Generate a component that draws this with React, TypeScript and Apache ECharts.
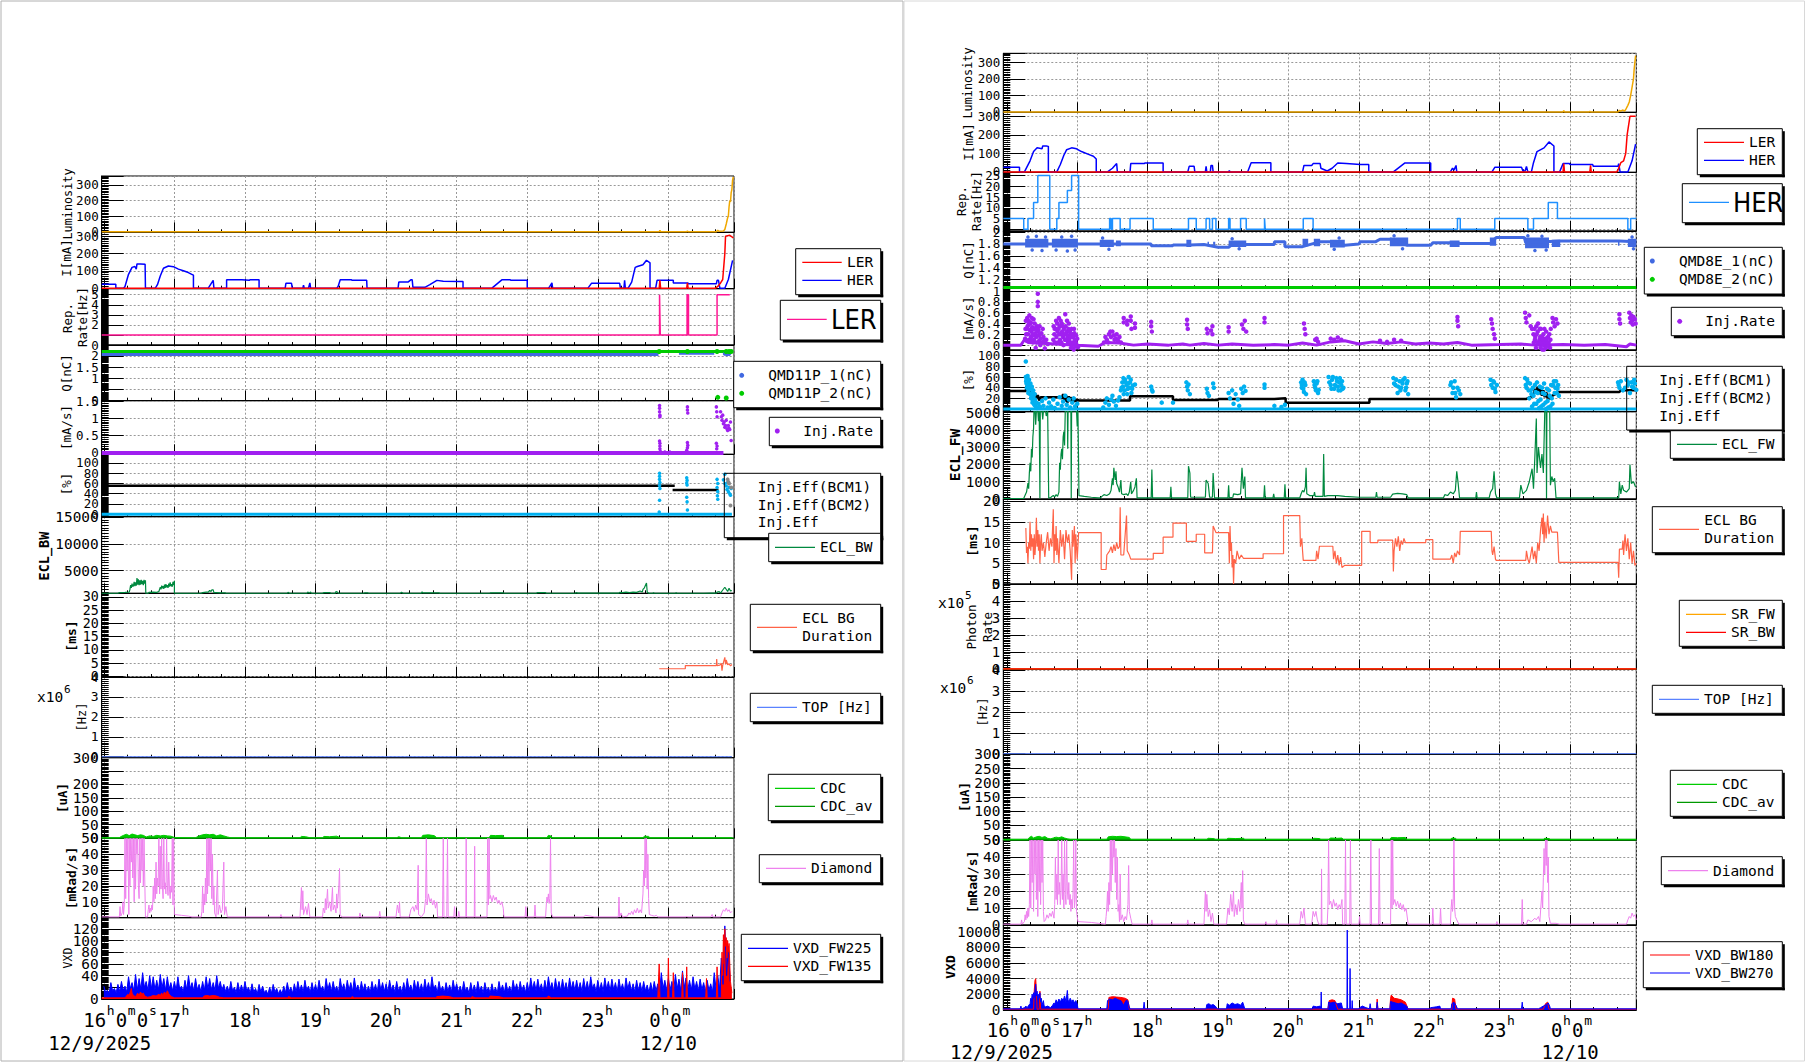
import React, { useEffect, useRef } from 'react';
import * as echarts from 'echarts';

const MONO = '"DejaVu Sans Mono", "Liberation Mono", monospace';
const NARROW = '"Liberation Sans Narrow", "DejaVu Sans Condensed", "Liberation Sans", sans-serif';

// ---------------- time axis (hours after 16:00) ----------------
const hourTicks = [1, 2, 3, 4, 5, 6, 7];
const hourNames = ['17', '18', '19', '20', '21', '22', '23'];
const firstLabel = [['16', 0], ['h', 1], ['0', 0], ['m', 1], ['0', 0], ['s', 1]];
const midnightLabel = [['0', 0], ['h', 1], ['0', 0], ['m', 1]];
const startDate = '12/9/2025';
const endDate = '12/10';

// ---------------- LEFT (LER) data ----------------
const lumL = [[-0.03,0],[7.87,0],[7.88,10],[7.89,0],[8.26,0],[8.27,5],[8.28,0],[8.68,0],[8.70,10],[8.72,3],[8.78,5],[8.80,15],[8.82,50],[8.84,90],[8.85,100],[8.86,160],[8.87,200],[8.88,190],[8.89,250],[8.90,270],[8.91,330],[8.92,350]];
const herIL = [[-0.03,23],[0.17,23],[0.17,0],[0.28,0],[0.30,10],[0.35,80],[0.40,120],[0.44,125],[0.46,110],[0.47,140],[0.52,140],[0.585,138],[0.59,0],[0.73,0],[0.76,20],[0.80,70],[0.845,115],[0.915,128],[0.986,124],[1.057,110],[1.127,100],[1.198,90],[1.246,80],[1.27,75],[1.27,0],[1.48,0],[1.55,45],[1.56,0],[1.74,0],[1.74,48],[1.955,48],[1.96,45],[2.06,45],[2.07,48],[2.2,48],[2.2,0],[2.57,0],[2.58,28],[2.66,28],[2.67,0],[2.82,0],[2.83,18],[2.84,0],[2.90,0],[2.92,30],[2.93,0],[3.3,0],[3.32,10],[3.35,48],[3.51,48],[3.52,45],[3.725,45],[3.73,0],[4.17,0],[4.18,35],[4.31,35],[4.35,48],[4.37,48],[4.38,5],[4.55,5],[4.62,20],[4.72,45],[4.81,40],[5.05,38],[5.09,38],[5.09,0],[5.50,0],[5.64,48],[5.76,48],[5.77,45],[6.0,45],[6.0,0],[6.30,0],[6.32,10],[6.35,30],[6.36,0],[6.86,0],[6.91,28],[7.31,28],[7.32,0],[7.37,0],[7.38,45],[7.39,0],[7.43,0],[7.48,35],[7.53,120],[7.56,125],[7.64,135],[7.69,161],[7.74,146],[7.74,0],[7.82,0],[7.84,45],[8.07,45],[8.07,30],[8.28,30],[8.28,25],[8.68,25],[8.69,45],[8.71,45],[8.73,0],[8.80,0],[8.85,50],[8.91,160]];
const lerIL = [[-0.03,0],[7.87,0],[7.88,45],[7.89,0],[8.26,0],[8.27,30],[8.28,0],[8.67,0],[8.70,10],[8.74,30],[8.77,50],[8.78,100],[8.80,200],[8.81,300],[8.87,305],[8.92,290]];
const lerRepL = [[-0.03,1],[7.875,1],[7.875,5],[7.885,5],[7.885,1],[8.265,1],[8.265,5],[8.285,5],[8.285,1],[8.69,1],[8.69,5],[8.87,5]];
const qGreenL = [[-0.03,2.2],[8.9,2.2]];
const qGreenDotsL = [[7.87,2.2],[8.27,2.2],[8.69,2.2],[8.82,2.2],[8.86,2.2],[8.89,2.2],[8.7,0.15],[8.82,0.12]];
const qBlueL = [[-0.03,2.07],[7.86,2.07]];
const qBlueL2 = [[8.15,2.12],[8.65,2.12]];
const qBlueDotsL = [[8.8,2.1],[8.83,2.08],[8.86,2.09]];
const injBaseL = [[-0.03,0],[8.78,0]];
const injPtsL = [[7.875,1.38],[7.875,1.3],[7.875,1.2],[7.88,1.1],[7.88,1.05],[7.875,0.35],[7.88,0.28],[7.88,0.2],[7.88,0.12],[7.885,0.05],[7.95,0.03],[8.02,0.03],[8.27,1.34],[8.27,1.25],[8.275,1.16],[8.27,0.3],[8.275,0.22],[8.27,0.15],[8.26,0.08],[8.68,1.34],[8.685,1.2],[8.69,1.05],[8.68,0.28],[8.69,0.2],[8.685,0.12],[8.74,1.2],[8.75,1.05],[8.76,0.95],[8.77,1.1],[8.78,0.85],[8.79,0.9],[8.8,0.75],[8.81,0.8],[8.82,0.95],[8.83,0.7],[8.84,0.65],[8.85,0.8],[8.86,0.72],[8.87,0.68],[8.88,0.9],[8.89,0.36]];
const effCyanLineL = [[-0.03,0],[8.9,0]];
const effCyanPtsL = [[7.875,80],[7.875,74],[7.875,68],[7.88,62],[7.875,56],[7.88,50],[7.875,27],[7.87,4],[8.26,71],[8.265,66],[8.26,61],[8.265,57],[8.26,33],[8.265,24],[8.27,8],[8.69,68],[8.70,60],[8.69,52],[8.70,44],[8.695,36],[8.70,29],[8.78,67],[8.8,60],[8.8,78],[8.82,55],[8.83,48],[8.84,62],[8.85,44],[8.86,52],[8.87,40],[8.88,37],[8.89,50]];
const effBlackL = [[-0.03,55.5],[8.09,55.5]];
const effBlackL2 = [[8.06,47],[8.71,47]];
const effGrayPtsL = [[8.84,68],[8.85,63],[8.86,60],[8.88,17],[8.89,52]];
const eclBwL = [[-0.03,780],[0.2,780],[0.22,900],[0.3,950],[0.36,1000],[0.37,1500],[0.38,2300],[0.39,1800],[0.40,2600],[0.41,2000],[0.42,2200],[0.43,2900],[0.44,2100],[0.45,2800],[0.46,2200],[0.47,3600],[0.48,2400],[0.49,3400],[0.50,2300],[0.51,3200],[0.52,2400],[0.53,3300],[0.54,2500],[0.55,3100],[0.56,2300],[0.57,3300],[0.58,2600],[0.59,3200],[0.595,780],[0.63,780],[0.64,950],[0.7,1000],[0.75,950],[0.78,1100],[0.79,1500],[0.80,1900],[0.81,1500],[0.82,2200],[0.83,1700],[0.84,2100],[0.85,1600],[0.86,2400],[0.87,1800],[0.88,2500],[0.89,1900],[0.90,2300],[0.91,1800],[0.92,2600],[0.93,2000],[0.94,2800],[0.95,2100],[0.96,2500],[0.97,2000],[0.98,2900],[0.99,2300],[1.0,3100],[1.0,780],[1.38,780],[1.4,900],[1.45,1000],[1.48,1000],[1.5,1300],[1.52,1100],[1.53,1400],[1.55,1400],[1.56,900],[1.6,900],[1.65,850],[1.72,850],[1.73,780],[2.6,780],[2.61,950],[2.63,780],[2.88,780],[2.89,1000],[2.91,800],[2.93,1000],[2.94,780],[3.1,780],[3.12,900],[3.2,900],[3.22,780],[3.28,780],[3.29,1100],[3.31,1000],[3.32,780],[3.68,780],[3.7,850],[3.74,850],[3.75,780],[4.2,780],[4.22,950],[4.24,780],[4.5,780],[4.51,1050],[4.52,850],[4.75,850],[4.76,780],[5.47,780],[5.48,850],[5.66,850],[5.67,780],[6.13,780],[6.14,880],[6.26,880],[6.27,780],[6.68,780],[6.69,900],[6.72,800],[7.3,800],[7.31,950],[7.35,880],[7.4,1000],[7.45,900],[7.5,1000],[7.55,950],[7.6,1200],[7.63,1000],[7.64,1500],[7.66,1800],[7.69,2700],[7.70,1000],[7.72,780],[7.78,780],[7.79,900],[7.80,780],[8.1,780],[8.11,900],[8.12,780],[8.5,780],[8.6,800],[8.68,800],[8.69,1000],[8.72,1100],[8.74,800],[8.76,1200],[8.8,1900],[8.84,1100],[8.86,1700],[8.88,1200],[8.9,1300]];
const bgDurL = [[7.87,2.9],[8.24,2.9],[8.24,4.1],[8.68,4.1],[8.685,6.6],[8.69,4.1],[8.73,4.3],[8.75,5.0],[8.76,2.2],[8.77,4.2],[8.80,7.2],[8.81,4.5],[8.82,6.2],[8.84,4.4],[8.86,4.8],[8.88,4.0],[8.9,4.5]];
const topL = [[-0.03,0],[8.9,0]];
const cdcAvL = [[-0.03,0],[8.93,0]];
const cdcL = [[-0.03,1],[0.22,1],[0.24,5],[0.28,10],[0.32,14],[0.36,9],[0.4,15],[0.44,12],[0.48,9],[0.52,12],[0.56,10],[0.6,4],[0.65,8],[0.7,6],[0.75,10],[0.8,8],[0.85,10],[0.9,8],[0.95,7],[1.0,2],[1.3,1],[1.35,8],[1.4,12],[1.45,14],[1.5,12],[1.55,14],[1.6,8],[1.65,12],[1.7,8],[1.75,4],[1.8,1],[2.78,1],[2.8,6],[2.86,5],[2.92,1],[3.1,1],[3.12,6],[3.2,5],[3.3,7],[3.35,1],[4.15,1],[4.18,5],[4.22,1],[4.5,1],[4.52,10],[4.6,12],[4.68,9],[4.72,1],[5.46,1],[5.48,10],[5.55,9],[5.65,10],[5.68,1],[6.28,1],[6.3,10],[6.34,7],[6.36,1],[7.64,1],[7.66,7],[7.72,6],[7.74,1],[8.9,1]];
const diaL = [[-0.03,0.5],[0.22,0.5],[0.23,7],[0.24,1],[0.26,3],[0.27,10],[0.28,2],[0.29,8],[0.3,50],[0.31,12],[0.32,50],[0.33,30],[0.34,50],[0.35,18],[0.355,2],[0.36,50],[0.37,20],[0.38,50],[0.39,35],[0.40,50],[0.41,25],[0.42,50],[0.43,10],[0.44,50],[0.45,18],[0.46,50],[0.47,40],[0.48,50],[0.49,20],[0.50,12],[0.51,50],[0.52,22],[0.53,50],[0.54,30],[0.55,50],[0.56,20],[0.57,50],[0.58,25],[0.59,0.5],[0.62,0.5],[0.63,5],[0.64,8],[0.65,3],[0.66,6],[0.67,4],[0.68,8],[0.69,5],[0.70,20],[0.71,10],[0.72,25],[0.73,12],[0.74,35],[0.75,15],[0.76,25],[0.77,20],[0.78,50],[0.79,15],[0.80,45],[0.81,18],[0.82,50],[0.83,20],[0.84,12],[0.85,50],[0.86,18],[0.87,22],[0.88,15],[0.89,50],[0.9,20],[0.91,14],[0.92,35],[0.93,18],[0.94,12],[0.95,20],[0.96,16],[0.97,50],[0.98,8],[0.99,50],[1.0,2],[1.1,1.5],[1.2,1],[1.25,0.5],[1.38,0.5],[1.39,4],[1.40,20],[1.41,3],[1.42,15],[1.43,8],[1.44,25],[1.45,10],[1.46,50],[1.47,15],[1.48,50],[1.49,20],[1.50,50],[1.51,30],[1.52,50],[1.53,12],[1.54,40],[1.55,8],[1.56,20],[1.57,3],[1.59,0.5],[1.61,30],[1.62,2],[1.64,8],[1.66,3],[1.68,5],[1.70,35],[1.71,2],[1.73,7],[1.75,0.5],[2.5,0.5],[2.51,2],[2.52,0.5],[2.78,0.5],[2.8,19],[2.81,5],[2.82,17],[2.83,2],[2.86,7],[2.88,2],[2.9,9],[2.92,0.5],[3.1,0.5],[3.11,6],[3.13,3],[3.14,12],[3.15,5],[3.17,18],[3.18,6],[3.2,10],[3.22,4],[3.24,19],[3.25,5],[3.27,8],[3.29,3],[3.3,15],[3.31,6],[3.33,20],[3.34,31],[3.35,2],[3.37,0.5],[3.62,0.5],[3.63,3],[3.64,0.5],[3.9,0.5],[3.91,4],[3.92,0.5],[4.14,0.5],[4.16,8],[4.18,3],[4.19,10],[4.2,0.5],[4.33,0.5],[4.35,5],[4.38,7],[4.4,4],[4.42,8],[4.44,5],[4.455,33],[4.46,2],[4.5,0.5],[4.54,3],[4.56,12],[4.57,50],[4.58,8],[4.6,15],[4.62,10],[4.64,12],[4.66,8],[4.68,11],[4.7,6],[4.72,10],[4.73,0.5],[4.8,0.5],[4.81,50],[4.82,0.5],[4.86,0.5],[4.87,50],[4.88,0.5],[4.96,0.5],[4.97,7],[4.98,0.5],[5.02,0.5],[5.03,4],[5.04,0.5],[5.13,0.5],[5.135,50],[5.14,0.5],[5.25,0.5],[5.255,45],[5.26,0.5],[5.43,0.5],[5.44,50],[5.45,8],[5.46,50],[5.47,12],[5.48,14],[5.50,10],[5.52,14],[5.54,11],[5.56,13],[5.58,9],[5.6,11],[5.62,8],[5.64,10],[5.66,6],[5.67,0.5],[5.97,0.5],[5.98,7],[5.99,0.5],[6.1,0.5],[6.11,8],[6.12,0.5],[6.26,0.5],[6.27,8],[6.28,13],[6.29,10],[6.3,15],[6.31,9],[6.32,12],[6.33,50],[6.34,3],[6.36,0.5],[6.8,0.5],[6.82,1.5],[6.9,1],[6.95,0.5],[7.29,0.5],[7.30,13],[7.31,0.5],[7.33,3],[7.35,0.5],[7.42,1],[7.44,3],[7.46,2],[7.48,4],[7.5,2],[7.52,5],[7.54,3],[7.56,6],[7.58,3],[7.6,5],[7.62,3],[7.64,15],[7.65,30],[7.66,20],[7.67,50],[7.68,25],[7.69,50],[7.70,18],[7.71,40],[7.72,12],[7.73,2],[7.76,1.5],[7.8,1],[7.83,1.5],[7.85,0.5],[8.25,0.5],[8.26,1],[8.27,0.5],[8.6,0.5],[8.62,2],[8.63,0.5],[8.74,0.5],[8.76,3],[8.78,5],[8.8,4],[8.82,6],[8.84,4],[8.86,5],[8.88,3],[8.9,4]];
// VXD_FW225 read every 3 minutes from 16:00: local peaks and the troughs between them
const vxdSampleStep = 0.05;
const vxdFwPeakL = [22,15,28,18,25, 30,22,38,28,42, 35,45,30,40,38, 32,42,35,38,28, 30,38,22,32,40, 28,35,25,30,38, 35,28,40,30,25, 22,30,20,28,24, 30,20,26,18,25, 22,15,20,25,18, 16,22,28,20,26, 30,24,32,22,28, 25,32,22,35,28, 30,22,35,26,32, 28,36,24,30,26, 22,30,25,34,28, 26,32,24,30,22, 28,35,24,32,30, 26,34,28,38,24, 30,22,28,24,32, 26,22,30,20,28, 24,30,22,28,20, 26,20,30,24,28, 22,32,26,30,24, 28,36,30,34,26, 32,38,28,35,30, 34,28,36,30,32, 28,35,30,38,26, 32,28,36,30,34, 28,34,26,36,30, 26,32,28,30,24, 28,30,26,45,32, 35,30,42,34,48, 36,32,38,30,34, 28,32,26,45,40, 70,125,90];
const vxdFwTroughL = [12,10,14,11,13, 15,12,18,14,16, 17,20,15,18,16, 16,19,15,17,14, 15,17,12,16,18, 14,16,13,15,17, 16,14,18,15,13, 12,14,11,13,12, 14,10,12,9,12, 11,8,10,12,9, 9,11,13,10,12, 14,12,15,11,13, 12,15,11,16,13, 14,11,16,12,15, 13,16,12,14,12, 11,14,12,15,13, 12,15,11,14,11, 13,16,12,15,14, 12,15,13,17,11, 14,11,13,12,15, 12,11,14,10,13, 11,14,10,13,10, 12,10,14,11,13, 11,15,12,14,11, 13,17,14,16,12, 15,18,13,16,14, 16,13,17,14,15, 13,16,14,18,12, 15,13,17,14,16, 13,16,12,17,14, 12,15,13,14,11, 13,14,12,18,15, 16,14,18,15,20, 16,15,17,14,16, 13,15,12,18,17, 25,40,30];
const vxdRedL = [[-0.03,2],[0.3,2],[0.32,5],[0.34,8],[0.36,6],[0.38,14],[0.39,18],[0.40,10],[0.42,6],[0.45,4],[0.48,10],[0.5,6],[0.52,12],[0.54,8],[0.56,10],[0.58,5],[0.62,3],[0.66,4],[0.7,6],[0.74,5],[0.78,8],[0.8,6],[0.82,10],[0.84,7],[0.86,12],[0.88,8],[0.9,14],[0.92,9],[0.94,6],[0.96,4],[1.0,2],[1.4,2],[1.42,5],[1.46,6],[1.5,5],[1.55,6],[1.6,5],[1.64,3],[1.7,2],[2.6,2],[2.62,4],[2.66,2],[3.5,2],[3.52,4],[3.55,2],[4.7,2],[4.72,4],[4.8,5],[4.9,4],[4.95,2],[5.2,2],[5.22,4],[5.26,2],[5.45,2],[5.48,5],[5.6,4],[5.66,2],[6.28,2],[6.3,5],[6.34,2],[7.85,2],[7.87,60],[7.88,2],[7.99,2],[8.0,70],[8.01,2],[8.06,2],[8.07,45],[8.08,2],[8.19,2],[8.2,45],[8.21,2],[8.25,2],[8.26,55],[8.27,2],[8.53,2],[8.54,35],[8.55,2],[8.68,2],[8.69,55],[8.7,2],[8.75,2],[8.76,80],[8.77,40],[8.78,110],[8.79,60],[8.8,120],[8.81,90],[8.82,105],[8.83,70],[8.84,100],[8.85,80],[8.86,95],[8.87,60],[8.88,30],[8.9,10]];

// ---------------- RIGHT (HER) data ----------------
const lumR = [[-0.05,0],[7.9,0],[7.91,8],[7.92,0],[8.27,0],[8.28,4],[8.29,0],[8.68,0],[8.70,10],[8.72,5],[8.75,12],[8.77,5],[8.79,15],[8.82,40],[8.84,60],[8.86,100],[8.88,150],[8.90,200],[8.91,260],[8.93,340]];
const herIR = [[-0.05,25],[0.18,25],[0.18,0],[0.25,0],[0.33,60],[0.38,110],[0.43,130],[0.50,125],[0.51,140],[0.56,140],[0.59,138],[0.59,0],[0.71,0],[0.76,40],[0.81,90],[0.85,120],[0.92,130],[0.99,125],[1.06,110],[1.16,95],[1.23,85],[1.27,70],[1.27,0],[1.43,0],[1.50,20],[1.56,45],[1.57,0],[1.75,0],[1.76,45],[1.95,45],[1.96,48],[2.22,48],[2.22,0],[2.57,0],[2.59,30],[2.66,30],[2.67,0],[2.82,0],[2.83,30],[2.84,0],[2.89,0],[2.90,35],[2.92,35],[2.93,0],[3.15,0],[3.16,8],[3.17,0],[3.42,0],[3.47,50],[3.75,50],[3.75,0],[4.20,0],[4.22,35],[4.33,35],[4.35,45],[4.45,45],[4.46,20],[4.55,5],[4.62,20],[4.70,48],[4.82,45],[5.02,40],[5.14,40],[5.14,0],[5.49,0],[5.65,48],[6.02,48],[6.02,0],[6.30,0],[6.33,20],[6.35,10],[6.38,35],[6.39,0],[6.89,0],[6.93,25],[7.31,25],[7.33,5],[7.36,5],[7.38,30],[7.40,0],[7.45,0],[7.48,50],[7.53,110],[7.63,130],[7.70,162],[7.77,140],[7.77,0],[7.85,0],[7.90,45],[7.99,45],[8.0,40],[8.32,40],[8.33,30],[8.68,30],[8.69,45],[8.71,0],[8.82,0],[8.88,60],[8.93,150]];
const lerIR = [[-0.05,0],[7.90,0],[7.91,45],[7.92,0],[8.28,0],[8.29,35],[8.30,0],[8.66,0],[8.68,10],[8.72,50],[8.76,60],[8.79,100],[8.81,200],[8.85,300],[8.93,300]];
const herRepR = [[-0.05,5],[0.24,5],[0.24,0],[0.30,0],[0.30,5],[0.38,5],[0.38,12.5],[0.44,12.5],[0.44,25],[0.61,25],[0.61,0],[0.71,0],[0.71,5],[0.74,5],[0.74,12.5],[0.86,12.5],[0.86,18],[0.92,18],[0.92,25],[1.02,25],[1.02,0],[1.46,0],[1.46,5],[1.48,5],[1.48,0],[1.50,0],[1.50,5],[1.61,5],[1.61,0],[1.75,0],[1.75,5],[2.08,5],[2.08,0],[2.58,0],[2.58,5],[2.69,5],[2.69,0],[2.83,0],[2.83,5],[2.88,5],[2.88,0],[2.92,0],[2.92,5],[2.97,5],[2.97,0],[3.15,0],[3.15,5],[3.17,5],[3.17,0],[3.32,0],[3.32,5],[3.40,5],[3.40,0],[3.66,0],[3.66,5],[3.67,5],[3.67,0],[4.21,0],[4.21,5],[4.35,5],[4.35,0],[6.40,0],[6.40,5],[6.44,5],[6.44,0],[6.93,0],[6.93,5],[7.40,5],[7.40,0],[7.48,0],[7.48,5],[7.69,5],[7.69,12.5],[7.82,12.5],[7.82,5],[8.82,5],[8.82,0],[8.86,0],[8.86,5],[8.94,5]];
const qBlueLineR = [[-0.05,1.80],[2.05,1.80],[2.05,1.77],[2.36,1.77],[2.36,1.785],[2.6,1.785],[2.8,1.79],[3.0,1.745],[3.15,1.745],[3.2,1.79],[3.8,1.79],[3.8,1.84],[3.95,1.84],[3.95,1.755],[4.2,1.755],[4.45,1.84],[4.6,1.84],[4.8,1.78],[5.0,1.80],[5.02,1.84],[5.24,1.84],[5.3,1.88],[5.45,1.88],[5.68,1.78],[6.02,1.78],[6.05,1.82],[6.3,1.82],[6.44,1.81],[6.87,1.81],[6.95,1.91],[7.35,1.91],[7.37,1.82],[7.85,1.85],[8.70,1.85],[8.94,1.84]];
const qBlobsR = [[0.26,0.59,1.74,1.89],[0.64,1.01,1.74,1.89],[1.32,1.52,1.75,1.87],[1.55,1.62,1.76,1.86],[2.55,2.62,1.75,1.87],[2.85,2.87,1.76,1.84],[2.93,2.96,1.77,1.84],[3.15,3.40,1.75,1.86],[4.2,4.28,1.76,1.89],[4.36,4.45,1.76,1.89],[4.59,4.8,1.74,1.87],[5.44,5.70,1.76,1.91],[6.29,6.43,1.75,1.86],[6.86,6.95,1.77,1.91],[7.36,7.70,1.73,1.91],[7.74,7.86,1.75,1.87],[8.68,8.70,1.77,1.86],[8.82,8.94,1.75,1.89]];
const qSpeckR = [[0.3,1.92],[0.36,1.7],[0.42,1.93],[0.5,1.69],[0.55,1.92],[0.7,1.7],[0.78,1.92],[0.86,1.68],[0.92,1.93],[0.97,1.7],[1.36,1.9],[1.45,1.71],[3.2,1.89],[3.3,1.72],[4.65,1.71],[4.72,1.9],[5.5,1.94],[5.62,1.72],[7.4,1.94],[7.5,1.69],[7.6,1.93],[7.66,1.7],[8.88,1.92],[8.9,1.72]];
const qGreenR = [[-0.05,1.065],[8.94,1.065]];
const injLineR = [[-0.05,0.0],[0.2,0.0],[0.25,0.1],[0.3,0.05],[1.0,0.0],[1.3,-0.02],[1.4,0.05],[1.6,0.04],[1.8,0.0],[2.0,0.02],[2.3,0.0],[2.5,0.02],[2.6,0.0],[2.8,0.03],[3.0,0.0],[3.2,0.02],[3.5,0.0],[3.8,0.01],[4.0,0.0],[4.2,0.04],[4.4,0.0],[4.6,0.06],[4.8,0.08],[5.0,0.02],[5.2,0.06],[5.4,0.03],[5.6,0.06],[5.8,0.02],[6.0,0.04],[6.2,0.02],[6.4,0.05],[6.6,0.0],[7.0,0.01],[7.3,0.02],[7.5,0.0],[7.9,0.01],[8.2,0.0],[8.5,0.01],[8.8,-0.03],[8.85,0.02],[8.94,0.0]];
const injPtsR = [[0.26,0.12],[0.27,0.45],[0.28,0.3],[0.29,0.5],[0.30,0.2],[0.31,0.38],[0.32,0.55],[0.33,0.1],[0.34,0.42],[0.35,0.25],[0.36,0.33],[0.37,0.05],[0.38,0.48],[0.39,0.18],[0.40,0.3],[0.41,-0.05],[0.42,0.15],[0.43,0.35],[0.44,0.95],[0.44,0.8],[0.44,0.72],[0.45,0.28],[0.46,0.08],[0.47,0.2],[0.48,0.12],[0.5,0.05],[0.52,0.15],[0.54,-0.06],[0.56,0.1],[0.58,0.02],[0.66,0.1],[0.68,0.3],[0.70,0.45],[0.72,0.25],[0.74,0.5],[0.75,0.35],[0.77,0.2],[0.78,0.4],[0.80,0.15],[0.81,0.3],[0.83,0.57],[0.84,0.1],[0.85,0.25],[0.87,0.05],[0.88,0.4],[0.9,0.2],[0.91,-0.05],[0.92,0.3],[0.94,0.15],[0.95,-0.08],[0.96,0.22],[0.98,0.05],[1.0,0.12],[1.01,-0.04],[1.38,0.05],[1.42,0.1],[1.45,0.2],[1.48,0.15],[1.5,0.25],[1.52,0.18],[1.55,0.12],[1.58,0.08],[1.62,0.05],[1.66,0.5],[1.66,0.42],[1.71,0.45],[1.71,0.38],[1.76,0.53],[1.76,0.45],[1.77,0.3],[1.82,0.4],[1.82,0.32],[2.05,0.43],[2.05,0.35],[2.06,0.25],[2.56,0.47],[2.56,0.38],[2.57,0.3],[2.84,0.3],[2.85,0.22],[2.9,0.27],[2.92,0.35],[2.92,0.2],[3.15,0.33],[3.15,0.25],[3.34,0.38],[3.36,0.3],[3.38,0.45],[3.40,0.25],[3.66,0.5],[3.66,0.42],[4.22,0.4],[4.23,0.3],[4.24,0.2],[4.38,0.1],[4.4,0.12],[4.42,0.06],[4.6,0.12],[4.65,0.1],[4.7,0.14],[4.75,0.1],[5.3,0.08],[5.4,0.06],[5.5,0.1],[5.6,0.08],[6.40,0.52],[6.40,0.45],[6.41,0.35],[6.88,0.48],[6.89,0.4],[6.9,0.3],[6.92,0.2],[6.93,0.12],[7.36,0.6],[7.37,0.5],[7.38,0.42],[7.42,0.55],[7.44,0.35],[7.46,0.3],[7.48,0.2],[7.5,0.1],[7.52,0.35],[7.54,0.25],[7.55,0.05],[7.57,0.3],[7.58,-0.05],[7.6,0.15],[7.62,0.2],[7.63,-0.08],[7.65,0.12],[7.66,0.25],[7.68,0.0],[7.7,-0.1],[7.72,0.1],[7.75,0.5],[7.76,0.42],[7.78,0.35],[7.8,0.48],[7.82,0.4],[8.70,0.57],[8.70,0.48],[8.71,0.4],[8.84,0.6],[8.85,0.5],[8.86,0.42],[8.87,0.55],[8.88,0.45],[8.89,0.38],[8.9,0.52],[8.92,0.48],[8.93,0.4]];
const injPtsR2 = [[0.265,0.3],[0.275,0.2],[0.285,0.08],[0.295,0.35],[0.305,0.45],[0.315,0.1],[0.325,0.28],[0.335,0.4],[0.345,0.15],[0.355,0.5],[0.365,0.2],[0.375,0.3],[0.385,0.1],[0.395,0.4],[0.405,0.22],[0.415,0.32],[0.425,0.05],[0.435,0.25],[0.455,0.18],[0.465,0.35],[0.475,0.0],[0.49,0.22],[0.51,0.3],[0.53,0.08],[0.665,0.35],[0.675,0.2],[0.685,0.05],[0.695,0.3],[0.705,0.15],[0.715,0.4],[0.725,0.05],[0.735,0.3],[0.745,0.2],[0.755,0.1],[0.765,0.45],[0.775,0.05],[0.785,0.25],[0.795,0.35],[0.805,0.0],[0.815,0.2],[0.825,0.1],[0.835,0.35],[0.845,0.2],[0.855,0.45],[0.865,0.15],[0.875,0.3],[0.885,0.1],[0.895,0.25],[0.905,0.05],[0.915,0.15],[0.925,-0.05],[0.935,0.2],[0.945,0.05],[0.955,0.3],[0.965,0.1],[0.975,-0.02],[0.985,0.18],[0.995,0.0],[1.4,0.15],[1.44,0.05],[1.47,0.25],[1.53,0.1],[1.56,0.2],[1.6,0.15],[7.485,0.05],[7.495,0.3],[7.505,0.15],[7.515,-0.05],[7.525,0.2],[7.535,0.05],[7.545,0.4],[7.565,0.1],[7.575,0.15],[7.585,0.3],[7.595,0.05],[7.605,-0.08],[7.615,0.1],[7.625,0.0],[7.635,0.3],[7.645,0.05],[7.655,-0.05],[7.665,0.1],[7.675,-0.1],[7.685,0.15],[7.695,0.05],[7.705,0.2],[7.715,-0.05],[7.725,0.3]];
const effCyanLineR = [[-0.05,0],[8.94,0]];
const effCyanPtsR = [[0.27,89],[0.27,60],[0.28,55],[0.28,48],[0.29,58],[0.30,42],[0.30,50],[0.31,35],[0.32,45],[0.33,28],[0.34,38],[0.35,22],[0.36,30],[0.37,15],[0.38,25],[0.39,8],[0.40,18],[0.41,5],[0.42,12],[0.43,2],[0.45,10],[0.47,4],[0.5,15],[0.52,6],[0.55,20],[0.58,3],[0.6,12],[0.63,5],[0.66,18],[0.68,2],[0.72,10],[0.75,22],[0.78,6],[0.8,14],[0.83,25],[0.85,8],[0.88,18],[0.9,3],[0.93,12],[0.95,20],[0.97,5],[1.0,10],[1.37,3],[1.4,12],[1.42,20],[1.45,8],[1.48,18],[1.5,25],[1.52,14],[1.55,6],[1.58,16],[1.6,22],[1.62,35],[1.64,50],[1.65,42],[1.66,28],[1.68,55],[1.7,45],[1.72,38],[1.73,60],[1.75,50],[1.77,30],[1.79,44],[1.82,46],[2.05,42],[2.06,36],[2.07,33],[2.2,12],[2.36,12],[2.55,50],[2.56,42],[2.57,35],[2.58,46],[2.6,28],[2.84,38],[2.85,30],[2.87,25],[2.93,48],[2.94,40],[3.15,30],[3.17,20],[3.2,35],[3.22,10],[3.25,28],[3.28,18],[3.3,6],[3.33,38],[3.35,30],[3.37,42],[3.39,34],[3.66,46],[3.66,40],[3.8,6],[3.9,4],[3.95,8],[4.18,50],[4.19,40],[4.2,55],[4.22,32],[4.24,45],[4.25,28],[4.36,52],[4.38,40],[4.4,48],[4.42,30],[4.43,36],[4.57,60],[4.6,45],[4.62,55],[4.65,38],[4.68,58],[4.7,42],[4.72,50],[4.74,35],[4.76,52],[4.78,40],[5.49,58],[5.52,45],[5.55,30],[5.58,52],[5.6,40],[5.63,55],[5.66,35],[5.68,48],[5.7,28],[6.30,45],[6.33,30],[6.36,52],[6.38,22],[6.4,40],[6.42,35],[6.44,28],[6.87,55],[6.9,40],[6.92,50],[6.94,32],[6.96,45],[7.36,58],[7.38,40],[7.4,50],[7.42,20],[7.44,35],[7.46,5],[7.48,25],[7.5,45],[7.52,10],[7.54,30],[7.56,2],[7.58,18],[7.6,40],[7.62,8],[7.64,28],[7.66,0],[7.68,15],[7.7,35],[7.72,5],[7.74,20],[7.76,45],[7.78,30],[7.8,52],[7.82,38],[7.84,25],[8.68,50],[8.7,40],[8.75,35],[8.8,55],[8.82,45],[8.85,30],[8.87,50],[8.9,40],[8.92,48],[8.94,36]];
const effCyanPtsR2 = [[0.275,52],[0.285,40],[0.295,62],[0.305,30],[0.315,55],[0.325,40],[0.335,48],[0.345,20],[0.355,42],[0.365,12],[0.375,35],[0.385,18],[0.395,28],[1.63,40],[1.655,58],[1.675,35],[1.69,50],[1.71,28],[1.725,48],[1.74,40],[1.76,55],[1.78,38],[4.58,50],[4.61,38],[4.63,60],[4.66,45],[4.69,52],[4.71,35],[4.73,58],[4.75,45],[4.77,38],[5.5,48],[5.53,55],[5.56,42],[5.59,35],[5.62,48],[5.65,58],[5.67,40],[5.69,52],[7.37,45],[7.39,55],[7.41,35],[7.43,48],[7.45,28],[7.47,40],[7.49,10],[7.51,32],[7.53,50],[7.55,15],[7.57,42],[7.59,5],[7.61,30],[7.63,48],[7.65,12],[7.67,38],[7.69,3],[7.71,25],[7.73,45],[7.75,10],[7.77,52],[7.79,40],[7.81,30],[7.83,45],[4.19,45],[4.21,38],[4.23,50],[4.37,45],[4.39,35],[4.41,52],[6.31,50],[6.34,40],[6.37,30],[6.88,45],[6.91,52],[6.93,38],[8.69,45],[8.72,52],[8.78,40],[8.83,50],[8.88,42],[8.91,55]];
const effBlackR = [[-0.05,34],[0.27,34],[0.28,44],[0.30,38],[0.32,42],[0.34,30],[0.36,35],[0.38,25],[0.40,30],[0.42,20],[0.44,26],[0.46,16],[0.48,22],[0.50,22],[0.75,22],[0.78,20],[0.8,28],[0.82,14],[0.84,26],[0.86,12],[0.88,24],[0.9,15],[0.92,22],[0.94,12],[0.96,20],[0.98,14],[1.0,18],[1.02,16],[1.75,16],[1.75,24],[2.36,24],[2.36,17],[3.0,17],[3.0,19],[3.8,19],[3.8,20],[3.96,20],[3.96,12],[5.15,12],[5.15,19],[7.38,19],[7.48,25],[7.5,38],[7.52,30],[7.54,42],[7.56,28],[7.58,38],[7.6,25],[7.62,35],[7.64,22],[7.66,32],[7.68,20],[7.7,28],[7.72,18],[7.75,25],[7.85,32],[8.70,32],[8.72,35],[8.94,35]];
const eclFwR = [[-0.05,30],[0.24,30],[0.25,130],[0.28,400],[0.30,920],[0.31,600],[0.32,1500],[0.33,2100],[0.34,1600],[0.35,2900],[0.36,2400],[0.37,3600],[0.38,4100],[0.385,5100],[0.40,5100],[0.41,4300],[0.42,5100],[0.44,5100],[0.45,4500],[0.46,5100],[0.465,5100],[0.47,30],[0.475,5100],[0.50,5100],[0.51,4600],[0.52,5100],[0.55,5100],[0.56,4800],[0.58,5100],[0.59,5100],[0.595,60],[0.62,60],[0.64,150],[0.66,200],[0.68,120],[0.70,250],[0.72,150],[0.74,400],[0.75,2100],[0.76,1700],[0.77,2600],[0.78,2900],[0.79,2300],[0.80,3600],[0.81,3900],[0.82,3100],[0.83,5100],[0.86,5100],[0.865,2900],[0.87,5100],[0.91,5100],[0.915,60],[0.92,5100],[0.99,5100],[1.0,4200],[1.01,5100],[1.02,5100],[1.025,190],[1.1,150],[1.2,100],[1.3,60],[1.33,60],[1.35,150],[1.38,250],[1.42,200],[1.46,300],[1.48,500],[1.5,1200],[1.51,800],[1.52,1800],[1.53,1400],[1.54,1100],[1.55,1600],[1.56,900],[1.58,700],[1.6,400],[1.62,1100],[1.63,300],[1.66,250],[1.7,300],[1.72,200],[1.74,400],[1.76,1000],[1.77,300],[1.8,500],[1.82,700],[1.84,1200],[1.85,60],[2.05,60],[2.06,1700],[2.07,60],[2.32,60],[2.33,700],[2.34,60],[2.57,60],[2.58,1900],[2.6,1500],[2.61,100],[2.82,100],[2.83,1100],[2.86,900],[2.88,100],[2.92,100],[2.93,1500],[2.95,60],[3.14,60],[3.15,800],[3.16,60],[3.21,100],[3.22,300],[3.28,250],[3.32,300],[3.34,1800],[3.36,600],[3.38,1300],[3.39,60],[3.65,60],[3.66,800],[3.67,60],[3.78,60],[3.79,300],[3.8,60],[3.94,60],[3.95,850],[3.96,60],[4.16,60],[4.18,300],[4.2,500],[4.22,400],[4.24,700],[4.25,1800],[4.26,300],[4.3,200],[4.36,200],[4.37,400],[4.38,150],[4.49,150],[4.5,2600],[4.51,150],[4.56,200],[4.7,200],[4.8,150],[5.0,100],[5.24,100],[5.25,400],[5.26,100],[5.45,100],[5.48,280],[5.55,320],[5.62,300],[5.68,250],[5.7,60],[6.2,60],[6.22,250],[6.26,200],[6.3,400],[6.34,300],[6.37,500],[6.39,1600],[6.41,900],[6.43,60],[6.66,60],[6.67,400],[6.68,60],[6.85,60],[6.87,400],[6.9,600],[6.92,1600],[6.94,300],[6.96,60],[7.28,60],[7.3,800],[7.33,300],[7.38,500],[7.42,1000],[7.46,1750],[7.48,600],[7.5,2500],[7.52,4650],[7.53,1500],[7.55,3000],[7.58,1800],[7.6,2600],[7.62,1500],[7.64,5100],[7.66,5100],[7.665,30],[7.67,5100],[7.71,5100],[7.72,800],[7.74,1300],[7.76,1000],[7.78,1200],[7.8,60],[8.69,60],[8.70,1000],[8.72,300],[8.74,800],[8.76,500],[8.8,400],[8.84,600],[8.85,2000],[8.87,900],[8.9,1000],[8.93,700]];
const bgDurR = [[0.27,13.5],[0.28,7.5],[0.29,9],[0.30,5],[0.31,10],[0.32,8.5],[0.33,15],[0.34,8],[0.35,12],[0.36,9],[0.37,11],[0.38,6],[0.39,12],[0.40,7],[0.41,10],[0.42,16],[0.43,9],[0.44,13],[0.45,8],[0.46,12],[0.47,5],[0.48,10],[0.49,12],[0.5,8],[0.52,10],[0.54,6.5],[0.56,10],[0.58,12.5],[0.6,8],[0.62,11],[0.64,9],[0.66,18],[0.67,5],[0.68,12],[0.69,8],[0.70,14],[0.71,7],[0.72,11],[0.74,5],[0.76,13],[0.78,9],[0.80,12],[0.82,6],[0.84,13],[0.86,10],[0.88,12],[0.9,8],[0.92,1],[0.93,13],[0.94,9],[0.96,14],[0.97,5],[0.98,12],[1.0,6],[1.02,12.4],[1.34,12.4],[1.34,3.5],[1.41,3.5],[1.42,7],[1.46,8],[1.48,9],[1.5,7.5],[1.52,9.5],[1.54,8],[1.56,10],[1.58,8.5],[1.6,9],[1.61,18.5],[1.62,7],[1.66,7],[1.7,16.5],[1.71,8],[1.74,7],[1.76,6],[2.08,6],[2.08,7.4],[2.22,7.4],[2.22,11.3],[2.36,11.3],[2.36,14.7],[2.55,14.7],[2.55,10.3],[2.69,10.3],[2.69,12],[2.81,12],[2.81,7.5],[2.92,7.5],[2.93,14],[2.97,12.4],[3.15,12.4],[3.16,5],[3.17,14],[3.18,8],[3.19,10],[3.2,4],[3.21,7],[3.22,0],[3.23,6],[3.25,5],[3.27,8],[3.3,6],[3.33,7],[3.36,6.2],[3.64,6.2],[3.64,7.3],[3.93,7.3],[3.93,16.5],[4.16,16.5],[4.17,9],[4.19,11],[4.2,8],[4.21,5.7],[4.39,5.7],[4.4,8],[4.42,6],[4.44,9.1],[4.63,9.1],[4.64,6],[4.66,8],[4.68,5],[4.7,7],[4.72,4.5],[4.74,6.5],[4.76,4],[4.8,4.5],[5.04,4.5],[5.04,12.7],[5.16,12.7],[5.16,10],[5.27,10],[5.27,10.6],[5.48,10.6],[5.49,3],[5.5,8],[5.52,11],[5.54,9],[5.56,11.5],[5.58,8],[5.6,10.5],[5.62,9.5],[5.64,11],[5.66,10],[5.68,10],[5.95,10],[5.95,10.7],[6.05,10.7],[6.05,6],[6.30,6],[6.32,7],[6.34,5],[6.36,7.5],[6.38,6.5],[6.40,8],[6.43,7],[6.44,12.7],[6.88,12.7],[6.89,8],[6.9,7],[6.92,9],[6.94,6],[6.95,5.7],[7.37,5.7],[7.38,8],[7.4,6],[7.42,5],[7.44,7],[7.46,9],[7.48,6],[7.5,8],[7.52,5],[7.54,10],[7.56,8],[7.58,13],[7.6,16],[7.61,12],[7.62,17],[7.63,10],[7.64,15],[7.66,11],[7.68,16.5],[7.7,12],[7.72,14],[7.74,12.5],[7.82,12.5],[7.84,5.2],[8.68,5.2],[8.69,1.5],[8.7,8.4],[8.74,8.4],[8.75,10.5],[8.76,7],[8.78,12],[8.8,8],[8.82,11],[8.84,6],[8.86,10],[8.88,5],[8.9,8],[8.92,4.5],[8.94,5]];
const srFwR = [[-0.05,0],[8.94,0]];
const srBwR = [[-0.05,0],[8.94,0]];
const topR = [[-0.05,0],[8.94,0]];
const cdcAvR = [[-0.05,0],[8.94,0]];
const cdcR = [[-0.05,1],[0.3,1],[0.32,8],[0.35,12],[0.38,6],[0.42,10],[0.46,12],[0.5,8],[0.54,11],[0.58,5],[0.62,3],[0.66,6],[0.7,9],[0.74,7],[0.78,10],[0.82,6],[0.86,3],[0.9,1],[1.42,1],[1.44,10],[1.5,12],[1.56,11],[1.62,12],[1.68,10],[1.74,8],[1.76,1],[2.84,1],[2.86,5],[2.94,4],[2.96,1],[3.12,1],[3.14,5],[3.25,4],[3.36,5],[3.38,1],[4.34,1],[4.36,5],[4.44,4],[4.46,1],[4.57,1],[4.6,6],[4.7,5],[4.76,6],[4.78,1],[5.44,1],[5.46,8],[5.55,7],[5.66,8],[5.68,1],[6.3,1],[6.32,6],[6.37,5],[6.39,1],[7.62,1],[7.64,5],[7.7,4],[7.72,1],[8.94,1]];
const diaR = [[-0.05,0.5],[0.2,0.5],[0.21,3],[0.22,0.5],[0.25,2],[0.26,6],[0.27,3],[0.28,8],[0.29,4],[0.3,10],[0.31,5],[0.32,12],[0.33,50],[0.34,10],[0.35,50],[0.36,25],[0.37,50],[0.38,8],[0.39,50],[0.40,30],[0.41,50],[0.42,15],[0.43,50],[0.44,5],[0.45,50],[0.46,20],[0.47,50],[0.48,12],[0.49,50],[0.50,25],[0.51,50],[0.52,8],[0.53,2],[0.55,3],[0.57,6],[0.59,4],[0.61,7],[0.63,5],[0.65,8],[0.67,4],[0.68,12],[0.69,40],[0.70,15],[0.71,30],[0.72,12],[0.73,50],[0.74,18],[0.75,25],[0.76,12],[0.77,20],[0.78,50],[0.79,15],[0.80,30],[0.81,10],[0.82,50],[0.83,18],[0.84,12],[0.85,50],[0.86,20],[0.87,15],[0.88,25],[0.89,12],[0.9,18],[0.91,8],[0.92,15],[0.93,10],[0.94,18],[0.95,50],[0.96,10],[0.97,15],[0.98,50],[0.99,8],[1.01,2],[1.2,1.5],[1.3,1],[1.4,0.5],[1.41,5],[1.42,10],[1.43,20],[1.44,8],[1.45,25],[1.46,12],[1.47,50],[1.48,20],[1.49,50],[1.50,30],[1.51,50],[1.52,40],[1.53,50],[1.54,25],[1.55,45],[1.56,15],[1.57,40],[1.58,8],[1.59,12],[1.6,2],[1.61,30],[1.62,3],[1.64,6],[1.66,2],[1.68,5],[1.7,3],[1.72,12],[1.73,35],[1.74,8],[1.76,4],[1.78,0.5],[2.05,0.5],[2.06,3],[2.07,0.5],[2.56,0.5],[2.57,3],[2.58,0.5],[2.8,0.5],[2.82,20],[2.83,8],[2.84,18],[2.86,5],[2.88,9],[2.9,2],[2.92,7],[2.94,0.5],[3.12,0.5],[3.14,10],[3.16,6],[3.18,18],[3.2,8],[3.22,20],[3.23,5],[3.25,12],[3.27,6],[3.29,15],[3.31,8],[3.33,25],[3.34,10],[3.35,32],[3.36,3],[3.38,0.5],[3.67,0.5],[3.68,2],[3.69,0.5],[3.82,0.5],[3.83,3],[3.84,0.5],[4.16,0.5],[4.18,8],[4.2,4],[4.22,10],[4.24,0.5],[4.33,0.5],[4.35,8],[4.37,5],[4.39,8],[4.41,3],[4.43,0.5],[4.465,0.5],[4.47,33],[4.475,0.5],[4.55,0.5],[4.56,10],[4.57,50],[4.58,12],[4.6,14],[4.62,10],[4.64,15],[4.66,11],[4.68,13],[4.7,9],[4.72,12],[4.74,10],[4.76,15],[4.77,0.5],[4.8,0.5],[4.81,50],[4.82,0.5],[4.87,0.5],[4.88,50],[4.89,0.5],[5.0,0.5],[5.01,5],[5.02,0.5],[5.16,0.5],[5.17,50],[5.18,0.5],[5.28,0.5],[5.29,45],[5.3,0.5],[5.45,0.5],[5.46,50],[5.47,10],[5.48,50],[5.49,12],[5.51,15],[5.53,11],[5.55,14],[5.57,10],[5.59,13],[5.61,9],[5.63,12],[5.65,8],[5.67,10],[5.7,0.5],[6.04,0.5],[6.05,10],[6.06,0.5],[6.15,0.5],[6.16,10],[6.17,0.5],[6.3,0.5],[6.31,10],[6.32,15],[6.33,8],[6.34,14],[6.35,50],[6.36,10],[6.37,5],[6.39,3],[6.42,0.5],[6.95,0.5],[6.96,2],[6.97,0.5],[7.31,0.5],[7.32,15],[7.33,0.5],[7.38,0.5],[7.4,3],[7.45,2],[7.5,4],[7.52,3],[7.55,5],[7.57,2],[7.6,20],[7.61,10],[7.62,28],[7.63,45],[7.64,30],[7.65,50],[7.66,35],[7.67,50],[7.68,25],[7.69,40],[7.7,5],[7.72,1],[7.8,1],[7.85,0.5],[8.8,0.5],[8.82,3],[8.84,5],[8.86,4],[8.88,7],[8.9,5],[8.92,6],[8.94,3]];
const vxdRedR = [[-0.05,100],[0.38,100],[0.39,2500],[0.40,3800],[0.41,4000],[0.42,2500],[0.43,100],[0.46,100],[0.47,2400],[0.48,100],[1.44,100],[1.45,1600],[1.5,1700],[1.56,1650],[1.62,1600],[1.68,1500],[1.72,1300],[1.74,100],[4.56,100],[4.58,1200],[4.62,1300],[4.66,1200],[4.7,100],[5.25,100],[5.26,1400],[5.27,100],[5.44,100],[5.45,1500],[5.46,1900],[5.5,1500],[5.56,1400],[5.6,1300],[5.66,1000],[5.7,100],[6.32,100],[6.33,1500],[6.36,1400],[6.38,100],[7.62,100],[7.65,800],[7.68,1000],[7.7,100],[8.94,100]];
const vxdBlueR = [[-0.05,150],[0.19,150],[0.20,500],[0.21,150],[0.25,300],[0.27,500],[0.29,300],[0.31,600],[0.33,800],[0.34,1500],[0.35,1200],[0.36,2000],[0.37,1400],[0.38,2200],[0.39,1600],[0.40,2600],[0.41,3300],[0.42,1800],[0.43,2400],[0.44,1300],[0.45,2000],[0.46,1500],[0.47,2200],[0.48,1000],[0.49,1500],[0.50,600],[0.52,1200],[0.53,500],[0.55,400],[0.58,500],[0.6,400],[0.62,300],[0.65,600],[0.67,900],[0.68,700],[0.70,1300],[0.72,900],[0.74,1400],[0.76,1000],[0.78,1500],[0.80,1200],[0.82,1800],[0.84,1100],[0.86,2500],[0.87,1300],[0.88,1000],[0.90,1500],[0.92,1100],[0.94,1300],[0.96,900],[0.98,1200],[1.0,800],[1.01,150],[1.42,150],[1.43,1200],[1.46,1400],[1.5,1300],[1.54,1500],[1.58,1300],[1.62,1200],[1.64,900],[1.66,600],[1.68,1000],[1.70,1300],[1.72,1100],[1.74,400],[1.75,150],[1.94,150],[1.95,1000],[1.96,150],[2.83,150],[2.84,700],[2.87,800],[2.9,600],[2.93,700],[2.96,500],[2.99,150],[3.12,150],[3.13,800],[3.16,600],[3.2,900],[3.24,700],[3.28,800],[3.32,600],[3.35,1000],[3.38,150],[4.34,150],[4.35,500],[4.4,400],[4.45,500],[4.46,150],[4.465,2300],[4.47,150],[4.56,150],[4.57,1000],[4.6,900],[4.65,1000],[4.7,800],[4.75,900],[4.77,150],[4.83,150],[4.835,10200],[4.84,150],[4.87,150],[4.875,5300],[4.88,150],[4.9,150],[4.905,1200],[4.91,150],[5.0,150],[5.01,300],[5.05,500],[5.1,300],[5.15,150],[5.16,800],[5.17,150],[5.25,150],[5.26,1000],[5.27,150],[5.44,150],[5.45,1100],[5.48,1000],[5.52,900],[5.56,800],[5.6,900],[5.64,700],[5.68,500],[5.7,150],[6.0,150],[6.02,300],[6.1,400],[6.15,500],[6.16,150],[6.31,150],[6.32,800],[6.35,1000],[6.38,600],[6.4,150],[7.31,150],[7.32,1000],[7.33,150],[7.55,150],[7.58,300],[7.62,500],[7.66,700],[7.69,900],[7.71,500],[7.72,150],[8.94,150]];

// ---------------- colours ----------------
const C = {
  lum: '#f0a800', red: '#ff0000', blue: '#0000ff', pink: '#ff1493', herRep: '#1e90ff',
  qBlue: '#4169e1', qGreen: '#00cc00', purple: '#a020f0', cyan: '#00b0f0', ecl: '#00893f',
  tomato: '#ff6347', top: '#5a82ff', cdc: '#00cc00', cdcAv: '#009900', violet: '#ee82ee', srFw: '#ffa500', gray: '#888',
};

// ---------------- layout ----------------
const L = { left: 101.7, right: 734, tmin: -0.03, tmax: 8.93 };
const R = { left: 1003.3, right: 1636.3, tmin: -0.05, tmax: 8.94 };

const leftPanels = [
  { top: 176, bottom: 232.3, min: -3, max: 356, step: 100, fs: 12.5 },
  { top: 232.3, bottom: 288.7, min: -3, max: 322, step: 100, fs: 12.5 },
  { top: 288.7, bottom: 345, min: 0, max: 5.6, step: 1, fs: 12.5 },
  { top: 345, bottom: 400.7, min: 0, max: 2.49, step: 0.5, fs: 12.5 },
  { top: 400.7, bottom: 454.3, min: -0.04, max: 1.52, step: 0.5, fs: 12.5 },
  { top: 454.3, bottom: 516.7, min: -5, max: 117, step: 20, fs: 12.5 },
  { top: 516.7, bottom: 593.3, min: 770, max: 15100, step: 5000, fs: 14.4 },
  { top: 593.3, bottom: 677, min: -0.2, max: 31.3, step: 5, fs: 13.3 },
  { top: 677, bottom: 757.7, min: -0.05, max: 4.0, step: 1, fs: 13 },
  { top: 757.7, bottom: 838.3, min: -1, max: 300, step: 50, fs: 14.4 },
  { top: 838.3, bottom: 917.7, min: 0, max: 50, step: 10, fs: 14.4 },
  { top: 917.7, bottom: 999, min: 0, max: 139, step: 20, fs: 14.4 },
];
const rightPanels = [
  { top: 53.3, bottom: 112.3, min: -2, max: 354, step: 100, fs: 12.5 },
  { top: 112.3, bottom: 172.3, min: -2, max: 322, step: 100, fs: 12.5 },
  { top: 172.3, bottom: 231, min: -0.8, max: 26.5, step: 5, fs: 12.5 },
  { top: 231, bottom: 288.3, min: 1.05, max: 2.02, step: 0.2, fs: 12.5 },
  { top: 288.3, bottom: 350, min: -0.09, max: 1.05, step: 0.2, fs: 12.5 },
  { top: 350, bottom: 411.7, min: -5, max: 110.7, step: 20, fs: 12.5 },
  { top: 411.7, bottom: 499, min: 0, max: 5050, step: 1000, fs: 14.4 },
  { top: 499, bottom: 584, min: 0, max: 20.5, step: 5, fs: 14.4 },
  { top: 584, bottom: 669.3, min: -0.03, max: 5, step: 1, fs: 14 },
  { top: 669.3, bottom: 754.3, min: -0.03, max: 4.05, step: 1, fs: 14 },
  { top: 754.3, bottom: 840, min: -1, max: 300, step: 50, fs: 14.4 },
  { top: 840, bottom: 925, min: 0, max: 50, step: 10, fs: 14.4 },
  { top: 925, bottom: 1010, min: 0, max: 10850, step: 2000, fs: 14.4 },
];

function buildOption() {
  const grids: any[] = [], xAxes: any[] = [], yAxes: any[] = [], series: any[] = [];
  const dash = { color: '#999', type: [2, 2], width: 1 };
  const addPanel = (side: any, p: any) => {
    const i = grids.length;
    grids.push({ left: side.left, top: p.top, width: side.right - side.left, height: p.bottom - p.top, show: true, borderColor: '#000', borderWidth: 1, backgroundColor: 'transparent', containLabel: false, outerBoundsMode: 'none' });
    xAxes.push({ type: 'value', gridIndex: i, min: side.tmin, max: side.tmax, minInterval: 1, maxInterval: 1,
      axisLine: { show: true, onZero: false, lineStyle: { color: '#000', width: 1 } },
      axisTick: { show: true, inside: true, length: 10, lineStyle: { color: '#000', width: 1 } },
      minorTick: { show: true, splitNumber: 3, length: 3, lineStyle: { color: '#000', width: 1 } },
      axisLabel: { show: false }, splitLine: { show: true, lineStyle: dash }, minorSplitLine: { show: false } });
    const step = p.step;
    yAxes.push({ type: 'value', gridIndex: i, min: p.min, max: p.max, minInterval: step, maxInterval: step, scale: true,
      axisLine: { show: true, onZero: false, lineStyle: { color: '#000', width: 1 } },
      axisTick: { show: true, inside: true, length: 22, lineStyle: { color: '#000', width: 1 } },
      minorTick: { show: true, splitNumber: 10, length: 7, lineStyle: { color: '#000', width: 1 } },
      axisLabel: { show: true, inside: false, margin: 3, fontFamily: MONO, fontSize: p.fs, color: '#000', showMinLabel: true, showMaxLabel: true,
        formatter: (v: number) => { const k = v / step; return Math.abs(k - Math.round(k)) < 1e-6 ? String(parseFloat(v.toFixed(3))) : ''; } },
      splitLine: { show: true, lineStyle: dash } });
    return i;
  };
  const li = leftPanels.map((p) => addPanel(L, p));
  const ri = rightPanels.map((p) => addPanel(R, p));

  const ln = (i: number, data: any, color: string, width = 1, extra: any = {}) => series.push({ type: 'line', xAxisIndex: i, yAxisIndex: i, data, symbol: 'none', showSymbol: false, clip: true, lineStyle: { color, width }, itemStyle: { color }, z: 3, animation: false, ...extra });
  const area = (i: number, data: any, color: string) => ln(i, data, color, 1, { areaStyle: { color, opacity: 1, origin: 'start' } });
  const sc = (i: number, data: any, color: string, size = 3.5) => series.push({ type: 'scatter', xAxisIndex: i, yAxisIndex: i, data, symbolSize: size, clip: true, itemStyle: { color, opacity: 1 }, z: 4, animation: false });
  const blob = (i: number, data: any, color: string) => series.push({ type: 'custom', xAxisIndex: i, yAxisIndex: i, data, clip: true, z: 3, animation: false, encode: { x: [0, 1], y: [2, 3] },
    renderItem: (params: any, api: any) => { const a = api.coord([api.value(0), api.value(3)]); const b = api.coord([api.value(1), api.value(2)]); return { type: 'rect', shape: { x: a[0], y: a[1], width: Math.max(1.5, b[0] - a[0]), height: b[1] - a[1] }, style: { fill: color } }; } });

  // left
  ln(li[0], lumL, C.lum, 1.5);
  ln(li[1], herIL, C.blue, 1.5); ln(li[1], lerIL, C.red, 1.5);
  ln(li[2], lerRepL, C.pink, 1.5);
  ln(li[3], qBlueL, C.qBlue, 3); ln(li[3], qBlueL2, C.qBlue, 3); sc(li[3], qBlueDotsL, C.qBlue, 4);
  ln(li[3], qGreenL, C.qGreen, 3); sc(li[3], qGreenDotsL, C.qGreen, 5);
  ln(li[4], injBaseL, C.purple, 4); sc(li[4], injPtsL, C.purple, 3.5);
  ln(li[5], effCyanLineL, C.cyan, 3); sc(li[5], effCyanPtsL, C.cyan, 3.5);
  ln(li[5], effBlackL, '#000', 2.5); ln(li[5], effBlackL2, '#000', 2.5); sc(li[5], effGrayPtsL, C.gray, 4);
  ln(li[6], eclBwL, C.ecl, 1.2);
  ln(li[7], bgDurL, C.tomato, 1.2);
  ln(li[8], topL, C.top, 1);
  ln(li[9], cdcAvL, C.cdcAv, 1.2); area(li[9], cdcL, C.cdc);
  ln(li[10], diaL, C.violet, 1);
  const vxdBand: number[][] = [];
  vxdFwPeakL.forEach((v, k) => { vxdBand.push([k * vxdSampleStep, v]); vxdBand.push([k * vxdSampleStep + vxdSampleStep / 2, vxdFwTroughL[k]]); });
  area(li[11], vxdBand, C.blue);
  area(li[11], vxdRedL, C.red);
  // right
  ln(ri[0], lumR, C.lum, 1.5);
  ln(ri[1], herIR, C.blue, 1.5); ln(ri[1], lerIR, C.red, 1.5);
  ln(ri[2], herRepR, C.herRep, 1.5);
  ln(ri[3], qBlueLineR, C.qBlue, 3); blob(ri[3], qBlobsR, C.qBlue); sc(ri[3], qSpeckR, C.qBlue, 3.5); ln(ri[3], qGreenR, C.qGreen, 3);
  ln(ri[4], injLineR, C.purple, 3); sc(ri[4], injPtsR, C.purple, 4.5); sc(ri[4], injPtsR2, C.purple, 4.5);
  ln(ri[5], effCyanLineR, C.cyan, 3); sc(ri[5], effCyanPtsR, C.cyan, 4.5); sc(ri[5], effCyanPtsR2, C.cyan, 4.5); ln(ri[5], effBlackR, '#000', 2.5);
  ln(ri[6], eclFwR, C.ecl, 1.2);
  ln(ri[7], bgDurR, C.tomato, 1.2);
  ln(ri[8], srFwR, C.srFw, 1.2); ln(ri[8], srBwR, C.red, 1.2);
  ln(ri[9], topR, C.top, 1);
  ln(ri[10], cdcAvR, C.cdcAv, 2); area(ri[10], cdcR, C.cdc);
  ln(ri[11], diaR, C.violet, 1);
  area(ri[12], vxdRedR, C.red); area(ri[12], vxdBlueR, C.blue);

  // ---------------- graphics ----------------
  const G: any[] = [];
  const T = (x: number, y: number, text: string, o: any = {}) => G.push({ type: 'text', x, y, z: 102, silent: true, rotation: o.rot || 0,
    style: { text, fill: o.color || '#000', fontSize: o.fs || 14.5, fontFamily: o.ff || MONO, fontWeight: o.fw || 'normal', align: o.align || 'left', verticalAlign: o.va || 'middle', textAlign: o.align || 'left', textVerticalAlign: o.va || 'middle' } });
  const Rc = (x: number, y: number, w: number, h: number, fill: string, stroke?: string, z = 100) => G.push({ type: 'rect', z, silent: true, shape: { x, y, width: w, height: h }, style: { fill, stroke: stroke || null, lineWidth: 1 } });
  const Ln = (x1: number, y1: number, x2: number, y2: number, color: string, w = 1.2) => G.push({ type: 'line', z: 102, silent: true, shape: { x1, y1, x2, y2 }, style: { stroke: color, lineWidth: w } });
  const Dot = (cx: number, cy: number, color: string) => G.push({ type: 'circle', z: 102, silent: true, shape: { cx, cy, r: 2.5 }, style: { fill: color } });

  // page frames
  Rc(1, 1, 902, 1060, 'none', '#b0b0b0', 90);
  Rc(904, 1, 900.5, 1060, 'none', '#d8d8d8', 90);

  // legends
  const box = (x: number, y: number, w: number, h: number, clear = false) => {
    Rc(x + w, y + 2.5, 2.5, h, '#000', undefined, 100);
    Rc(x + 2.5, y + h, w, 2.5, '#000', undefined, 100);
    Rc(x, y, w, h, clear ? 'none' : '#fff', '#000', 101);
  };
  const lineItem = (x1: number, x2: number, y: number, color: string, label: string, tx: number, fs = 14.5, ff = MONO) => { Ln(x1, y, x2, y, color); T(tx, y, label, { fs, ff }); };
  // left
  box(795.7, 248.7, 85, 46); lineItem(802.3, 841.7, 262.3, C.red, 'LER', 847); lineItem(802.3, 841.7, 280.3, C.blue, 'HER', 847);
  box(780.3, 300.3, 100.4, 39.7); lineItem(787, 826.7, 319.3, C.pink, 'LER', 831, 27, NARROW);
  box(733.7, 361.3, 147, 46.4); Dot(741.7, 375.3, C.qBlue); Dot(741.7, 393.3, C.qGreen);
  T(873, 375.3, 'QMD11P_1(nC)', { align: 'right' }); T(873, 393.3, 'QMD11P_2(nC)', { align: 'right' });
  box(769.3, 417.3, 111.4, 28.4); Dot(777.3, 431, C.purple); T(873, 431, 'Inj.Rate', { align: 'right' });
  box(724.3, 473.3, 156.4, 64.4, true); T(757.7, 487.3, 'Inj.Eff(BCM1)'); T(757.7, 505, 'Inj.Eff(BCM2)'); T(757.7, 522.3, 'Inj.Eff');
  box(768.7, 533.3, 112, 28.4); lineItem(775, 815, 547.3, C.ecl, 'ECL_BW', 820);
  box(750.3, 604.3, 130.4, 46.4); Ln(757, 627.3, 797, 627.3, C.tomato); T(802.3, 618.3, 'ECL BG'); T(802.3, 636.3, 'Duration');
  box(750.3, 693.3, 130.4, 28.4); lineItem(757, 797, 707.3, C.top, 'TOP [Hz]', 802);
  box(768.3, 774.3, 112.4, 46.4); lineItem(775, 815, 788.3, C.cdc, 'CDC', 820); lineItem(775, 815, 806.3, C.cdcAv, 'CDC_av', 820);
  box(759.3, 854.7, 121.4, 28); lineItem(766, 806, 868.3, C.violet, 'Diamond', 811);
  box(741.3, 934.3, 139.4, 46.4); lineItem(748, 788, 948.3, C.blue, 'VXD_FW225', 793); lineItem(748, 788, 966.3, C.red, 'VXD_FW135', 793);
  // right
  box(1697.3, 128.7, 85, 46); lineItem(1704, 1744, 142.3, C.red, 'LER', 1749); lineItem(1704, 1744, 160.3, C.blue, 'HER', 1749);
  box(1682.3, 183.7, 100, 39); lineItem(1689, 1729, 202.3, C.herRep, 'HER', 1733, 27, NARROW);
  box(1644.3, 247.3, 138, 46.7); Dot(1652.3, 261, C.qBlue); Dot(1652.3, 279.3, C.qGreen);
  T(1775, 261, 'QMD8E_1(nC)', { align: 'right' }); T(1775, 279.3, 'QMD8E_2(nC)', { align: 'right' });
  box(1671.3, 307.3, 111, 28.4); Dot(1679.7, 321.3, C.purple); T(1775, 321.3, 'Inj.Rate', { align: 'right' });
  box(1626.7, 366.3, 155.6, 63.7, true); T(1659.3, 380, 'Inj.Eff(BCM1)'); T(1659.3, 398, 'Inj.Eff(BCM2)'); T(1659.3, 416, 'Inj.Eff');
  box(1670.3, 430.7, 112, 27.6); lineItem(1677, 1717, 444.3, C.ecl, 'ECL_FW', 1722);
  box(1652.3, 506.7, 130, 46); Ln(1659, 529.3, 1699, 529.3, C.tomato); T(1704.3, 520, 'ECL BG'); T(1704.3, 538, 'Duration');
  box(1679.3, 600.3, 103, 46); lineItem(1686, 1726, 614.3, C.srFw, 'SR_FW', 1731); lineItem(1686, 1726, 632.3, C.red, 'SR_BW', 1731);
  box(1652.3, 685.3, 130, 28); lineItem(1659, 1699, 699.3, C.top, 'TOP [Hz]', 1704);
  box(1670.3, 770.3, 112, 46); lineItem(1677, 1717, 784.3, C.cdc, 'CDC', 1722); lineItem(1677, 1717, 802.3, C.cdcAv, 'CDC_av', 1722);
  box(1661.3, 856.7, 121, 28); lineItem(1668, 1708, 870.7, C.violet, 'Diamond', 1713);
  box(1643.3, 941.7, 139, 46); lineItem(1650, 1690, 955, C.red, 'VXD_BW180', 1695); lineItem(1650, 1690, 973, C.blue, 'VXD_BW270', 1695);

  // rotated axis titles
  const rot = Math.PI / 2;
  const YT = (x: number, y: number, s: string, fs = 12.5, fw = 'normal') => T(x, y, s, { rot, align: 'center', va: 'middle', fs, fw });
  YT(68, 204, 'Luminosity', 11.8); YT(66.7, 258, 'I[mA]'); YT(67.7, 318, 'Rep.'); YT(82.7, 317, 'Rate[Hz]');
  YT(66.7, 373, 'Q[nC]'); YT(66.7, 427.5, '[mA/s]'); YT(66.7, 484, '[%]'); YT(44.3, 556, 'ECL_BW', 13.5, 'bold');
  YT(71, 636, '[ms]', 13, 'bold'); YT(81.7, 717, '[Hz]', 12); YT(62.3, 798, '[uA]', 12.5, 'bold'); YT(71, 878, '[mRad/s]', 13, 'bold'); YT(67.7, 958, 'VXD', 11.5);
  YT(968.3, 83, 'Luminosity', 11.8); YT(968.3, 142, 'I[mA]'); YT(961.7, 201, 'Rep.'); YT(976.7, 201, 'Rate[Hz]');
  YT(968.3, 260, 'Q[nC]'); YT(968.3, 319, '[mA/s]'); YT(968.3, 380, '[%]'); YT(955, 455, 'ECL_FW', 14.5, 'bold');
  YT(972.7, 541, '[ms]', 13, 'bold'); YT(971.7, 627, 'Photon', 12.5); YT(987.3, 627, 'Rate', 12.5);
  YT(982.7, 712, '[Hz]', 12); YT(964, 797, '[uA]', 12.5, 'bold'); YT(972.7, 882, '[mRad/s]', 13, 'bold'); YT(950, 967, 'VXD', 13, 'bold');
  // multipliers
  const mult = (x: number, y: number, e: string) => { T(x, y, 'x10', { fs: 14.5 }); T(x + 27, y - 8, e, { fs: 11 }); };
  mult(37, 697, '6'); mult(938, 603, '5'); mult(940, 688, '6');

  // time axis labels
  const BIG = 19, SUP = 13;
  const cw = (s: string, fs: number) => s.length * 0.602 * fs;
  const pieceLabel = (x0: number, cy: number, pieces: any[], center: boolean) => {
    const widths = pieces.map(([s, sup]: any) => cw(s, sup ? SUP : BIG) + (sup ? 1.2 : 0.6));
    const total = widths.reduce((a: number, b: number) => a + b, 0);
    let x = center ? x0 - total / 2 : x0;
    pieces.forEach(([s, sup]: any, k: number) => { T(x, sup ? cy - 9 : cy, s, { fs: sup ? SUP : BIG }); x += widths[k]; });
  };
  const xPix = (side: any, t: number) => side.left + (t - side.tmin) / (side.tmax - side.tmin) * (side.right - side.left);
  const timeAxis = (side: any, cy: number, dateY: number, firstX: number, dateX: number) => {
    pieceLabel(firstX, cy, firstLabel, false);
    hourTicks.forEach((h, k) => pieceLabel(xPix(side, h), cy, [[hourNames[k], 0], ['h', 1]], true));
    pieceLabel(xPix(side, 8) + 2, cy, midnightLabel, true);
    T(dateX, dateY, startDate, { fs: BIG });
    T(xPix(side, 8), dateY, endDate, { fs: BIG, align: 'center' });
  };
  timeAxis(L, 1019.5, 1042.5, 83.3, 48.3);
  timeAxis(R, 1029.7, 1051.5, 986.7, 950);

  return { animation: false, backgroundColor: '#fff', grid: grids, xAxis: xAxes, yAxis: yAxes, series, graphic: { elements: G } };
}

export default function App() {
  const ref = useRef<HTMLDivElement>(null);
  useEffect(() => {
    if (!ref.current) return;
    const chart = echarts.init(ref.current, null, { renderer: 'svg' });
    chart.setOption(buildOption() as any);
    return () => chart.dispose();
  }, []);
  return <div ref={ref} style={{ position: 'absolute', left: 0, top: 0, width: 1806, height: 1062 }} />;
}
